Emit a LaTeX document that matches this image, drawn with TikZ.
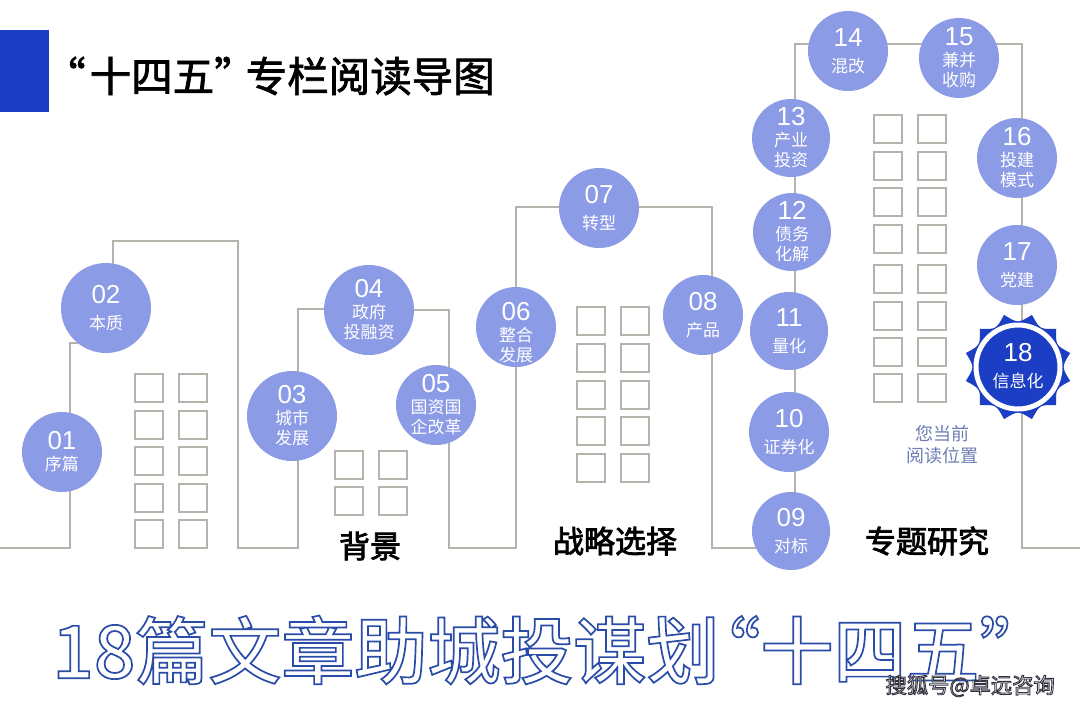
\documentclass[tikz,border=0pt]{standalone}
\usepackage{fontspec}
\usepackage{xcolor}
\setmainfont{Noto Sans CJK SC}
\newfontfamily\digitfont{Liberation Sans}
\newfontfamily\mediumfont{Noto Sans CJK SC Medium}

\definecolor{roundblue}{HTML}{8C9BE6}
\definecolor{deepblue}{HTML}{1B3EC4}
\definecolor{wallgray}{HTML}{B4B4AC}
\definecolor{hintblue}{HTML}{6F7FB5}

\newcommand{\hollowtext}[1]{\special{pdf:code q 2 Tr 1.7 w 0.16 0.30 0.66 RG 1 1 1 rg}#1\special{pdf:code Q}}
\newcommand{\markedtext}[1]{\special{pdf:code q 2 Tr 0.9 w 0.2 0.2 0.25 RG 1 1 1 rg}#1\special{pdf:code Q}}
\newcommand{\heavytext}[2]{\special{pdf:code q 2 Tr #1 w 0 0 0 RG 0 0 0 rg}#2\special{pdf:code Q}}

\tikzset{
    wall/.style={draw=wallgray, line width=2pt},
    window/.style={draw=wallgray, line width=2pt, minimum size=28pt, inner sep=0pt},
    stop/.style={circle, fill=roundblue, text=white, inner sep=0pt, align=center, font=\fontsize{17}{20}\selectfont},
    sectionname/.style={font=\fontsize{31}{34}\selectfont},
}

% number over a two line label, number over a one line label
\newcommand{\numtext}[2]{{\digitfont\fontsize{26}{25}\selectfont #1}\\[1pt]#2}
\newcommand{\numwide}[2]{{\digitfont\fontsize{26}{25}\selectfont #1}\\[6pt]#2}

\begin{document}
\begin{tikzpicture}[x=1pt, y=-1pt]
        \useasboundingbox (0,0) rectangle (1080,710);
        \fill[white] (0,0) rectangle (1080,710);

        % Title
        \node (mark) [fill=deepblue, minimum width=49pt, minimum height=82pt, inner sep=0pt] at (24.5,71) {};
        \node (title) [anchor=west, inner sep=0pt, font=\fontsize{41.5}{46}\selectfont] at (69,76) {\heavytext{0.7}{\kern-25pt“\kern4pt十四五”\kern-10pt专栏阅读导图}};

        % Skyline
        \draw [wall] (0,548) -- (70,548) -- (70,343) -- (80,343);
        \draw [wall] (113,270) -- (113,241) -- (238,241) -- (238,548) -- (298,548) -- (298,309) -- (369,309);
        \draw [wall] (369,310) -- (449,310) -- (449,548) -- (516,548) -- (516,207) -- (712,207) -- (712,548) -- (795,548)
            -- (795,44) -- (1022,44) -- (1022,548) -- (1080,548);

        % Windows
        \foreach \x in {149,193}
            \foreach \y in {387.5,424.5,460.5,497.5,533.5}
                \node [window] at (\x,\y) {};
        \foreach \x in {349,393}
            \foreach \y in {464.5,500.5}
                \node [window] at (\x,\y) {};
        \foreach \x in {591,635}
            \foreach \y in {321,358,395,431,468}
                \node [window] at (\x,\y) {};
        \foreach \x in {888,932}
            \foreach \y in {129,165.5,202,239,278.5,315.5,351.5,388}
                \node [window] at (\x,\y) {};

        % Stops
        \node (s01) [stop, minimum size=80pt] at (62,452) {\numtext{01}{序篇}};
        \node (s02) [stop, minimum size=90pt] at (106,308) {\numwide{02}{本质}};
        \node (s03) [stop, minimum size=90pt] at (292,416) {\numtext{03}{城市\\发展}};
        \node (s04) [stop, minimum size=90pt] at (369,310) {\numtext{04}{政府\\投融资}};
        \node (s05) [stop, minimum size=80pt] at (436,405) {\numtext{05}{国资国\\企改革}};
        \node (s06) [stop, minimum size=80pt] at (516,327) {};
        \node (s06t) [stop, fill=none] at (516,333) {\numtext{06}{整合\\发展}};
        \node (s07) [stop, minimum size=80pt] at (599,208) {\numwide{07}{转型}};
        \node (s08) [stop, minimum size=80pt] at (703,315) {\numwide{08}{产品}};
        \node (s09) [stop, minimum size=78pt] at (791,531) {\numwide{09}{对标}};
        \node (s10) [stop, minimum size=80pt] at (789,432) {\numwide{10}{证券化}};
        \node (s11) [stop, minimum size=78pt] at (789,331) {\numwide{11}{量化}};
        \node (s12) [stop, minimum size=78pt] at (792,232) {\numtext{12}{债务\\化解}};
        \node (s13) [stop, minimum size=78pt] at (791,138) {\numtext{13}{产业\\投资}};
        \node (s14) [stop, minimum size=80pt] at (848,51) {\numwide{14}{混改}};
        \node (s15) [stop, minimum size=80pt] at (959,58) {\numtext{15}{兼并\\收购}};
        \node (s16) [stop, minimum size=80pt] at (1017,158) {\numtext{16}{投建\\模式}};
        \node (s17) [stop, minimum size=80pt] at (1017,265) {\numwide{17}{党建}};

        % Current stop
        \begin{scope}[shift={(1018,367)}, y=1pt]
            \fill [deepblue] (15:54) \foreach \a in {15,45,...,345} { .. controls (\a+15:43.5) .. (\a+30:54) } -- cycle;
        \end{scope}
        \node (ring) [circle, draw=white, fill=deepblue, line width=5pt, minimum size=84pt, inner sep=0pt] at (1018,367) {};
        \node (s18) [stop, fill=none] at (1018,366) {\numwide{18}{信息化}};
        \node (hint) [text=hintblue, align=center, font=\fontsize{18}{22}\selectfont] at (942,445) {您当前\\阅读位置};

        % Sections
        \node (bg) [sectionname] at (370,546) {\heavytext{0.8}{背景}};
        \node (choice) [sectionname] at (615,541) {\heavytext{0.8}{战略选择}};
        \node (topic) [sectionname] at (927,541) {\heavytext{0.8}{专题研究}};

        % Slogan
        \node (slogan) [anchor=west, inner sep=0pt, font=\fontsize{73}{80}\selectfont\mediumfont] at (52,650) {\hollowtext{18篇文章助城投谋划\kern-32pt“十四五”}};
        \node (source) [anchor=east, inner sep=0pt, font=\fontsize{21.3}{24}\selectfont] at (1055,686) {\markedtext{搜狐号@卓远咨询}};

\end{tikzpicture}
\end{document}
